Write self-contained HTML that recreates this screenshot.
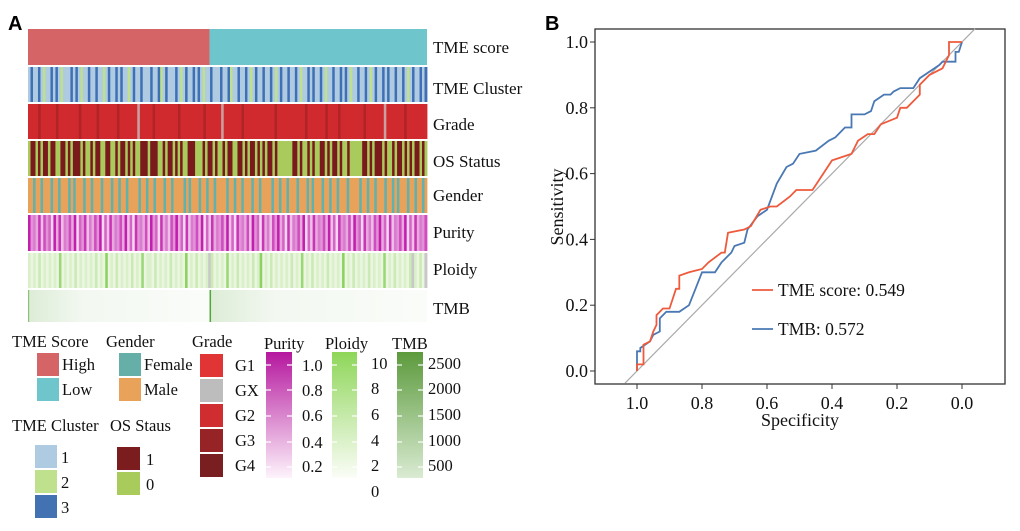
<!DOCTYPE html>
<html><head><meta charset="utf-8">
<style>
html,body{margin:0;padding:0;background:#fff;}
svg{display:block;font-family:"Liberation Serif",serif;}
.lab{font-size:17px;fill:#111;}
.lg{font-size:16.5px;fill:#111;}
</style></head>
<body>
<svg id="fig" width="1020" height="531" viewBox="0 0 1020 531">
  <text x="8" y="30" font-family="Liberation Sans" font-weight="bold" font-size="20">A</text>
  <text x="545" y="30" font-family="Liberation Sans" font-weight="bold" font-size="20">B</text>
  <g id="heat"></g>
  <g>
    <text class="lab" x="433" y="53">TME score</text>
    <text class="lab" x="433" y="94">TME Cluster</text>
    <text class="lab" x="433" y="130">Grade</text>
    <text class="lab" x="433" y="167">OS Status</text>
    <text class="lab" x="433" y="201">Gender</text>
    <text class="lab" x="433" y="238">Purity</text>
    <text class="lab" x="433" y="275">Ploidy</text>
    <text class="lab" x="433" y="314">TMB</text>
  </g>
  <defs>
    <linearGradient id="gPur" x1="0" y1="0" x2="0" y2="1"><stop offset="0" stop-color="#b5179e"/><stop offset="1" stop-color="#fdf3fb"/></linearGradient>
    <linearGradient id="gPlo" x1="0" y1="0" x2="0" y2="1"><stop offset="0" stop-color="#8ed659"/><stop offset="1" stop-color="#fbfdf7"/></linearGradient>
    <linearGradient id="gTmb" x1="0" y1="0" x2="0" y2="1"><stop offset="0" stop-color="#5c9a3c"/><stop offset="1" stop-color="#d9ebd2"/></linearGradient>
    <linearGradient id="gTmbRow" x1="0" y1="0" x2="1" y2="0"><stop offset="0" stop-color="#dcecd6"/><stop offset="0.3" stop-color="#f3f8f1"/><stop offset="1" stop-color="#fafcf9"/></linearGradient>
  </defs>
  <g>
    <g>
      <text class="lg" x="12" y="347">TME Score</text>
      <rect x="37" y="353" width="22" height="23" fill="#d46466"/><text class="lg" x="62" y="370">High</text>
      <rect x="37" y="378" width="22" height="23" fill="#6ec5cb"/><text class="lg" x="62" y="395">Low</text>
    </g>
    <g>
      <text class="lg" x="106" y="347">Gender</text>
      <rect x="119" y="353" width="22" height="23" fill="#66aea8"/><text class="lg" x="144" y="370">Female</text>
      <rect x="119" y="378" width="22" height="23" fill="#e9a25a"/><text class="lg" x="144" y="395">Male</text>
    </g>
    <g>
      <text class="lg" x="12" y="431">TME Cluster</text>
      <rect x="35" y="445" width="22" height="23" fill="#aecbe1"/><text class="lg" x="61" y="463">1</text>
      <rect x="35" y="470" width="22" height="23" fill="#bfe08d"/><text class="lg" x="61" y="488">2</text>
      <rect x="35" y="495" width="22" height="23" fill="#4372b2"/><text class="lg" x="61" y="513">3</text>
    </g>
    <g>
      <text class="lg" x="110" y="431">OS Staus</text>
      <rect x="117" y="447" width="23" height="23" fill="#7b1c1e"/><text class="lg" x="146" y="465">1</text>
      <rect x="117" y="472" width="23" height="23" fill="#a9cb5c"/><text class="lg" x="146" y="490">0</text>
    </g>
    <g>
      <text class="lg" x="192" y="347">Grade</text>
      <rect x="200" y="354" width="23" height="23" fill="#e13434"/><text class="lg" x="235" y="371">G1</text>
      <rect x="200" y="379" width="23" height="23" fill="#bdbdbd"/><text class="lg" x="235" y="396">GX</text>
      <rect x="200" y="404" width="23" height="23" fill="#cf2d2f"/><text class="lg" x="235" y="421">G2</text>
      <rect x="200" y="429" width="23" height="23" fill="#962426"/><text class="lg" x="235" y="446">G3</text>
      <rect x="200" y="454" width="23" height="23" fill="#7a1f21"/><text class="lg" x="235" y="471">G4</text>
    </g>
    <g>
      <text class="lg" x="264" y="349">Purity</text>
      <rect x="266" y="352" width="26" height="126" fill="url(#gPur)"/>
      <text class="lg" x="302" y="371">1.0</text><text class="lg" x="302" y="396">0.8</text><text class="lg" x="302" y="421">0.6</text><text class="lg" x="302" y="448">0.4</text><text class="lg" x="302" y="472">0.2</text>
    </g>
    <g>
      <text class="lg" x="325" y="349">Ploidy</text>
      <rect x="332" y="352" width="25" height="126" fill="url(#gPlo)"/>
      <text class="lg" x="371" y="369">10</text><text class="lg" x="371" y="394">8</text><text class="lg" x="371" y="420">6</text><text class="lg" x="371" y="446">4</text><text class="lg" x="371" y="471">2</text><text class="lg" x="371" y="497">0</text>
    </g>
    <g>
      <text class="lg" x="392" y="349">TMB</text>
      <rect x="397" y="352" width="26" height="126" fill="url(#gTmb)"/>
      <text class="lg" x="428" y="369">2500</text><text class="lg" x="428" y="394">2000</text><text class="lg" x="428" y="420">1500</text><text class="lg" x="428" y="446">1000</text><text class="lg" x="428" y="471">500</text>
    </g>
    <g id="ticks" stroke="#fff" stroke-width="1.2"></g>
  </g>
  <g id="roc"></g>
</svg>
<script>
// ---- heatmap data (category codes per sample) ----
const clusterRow = "1311312113131211131312113113112131131311213113111311321311131213113131211311131132113113121311311312131131131211313113121131131312113113121311313113113121311313";
const gradeRow   = "2222322222232222222232222223222222232222222X22222322222222232222222223222222X222222232222222222223222222222223222222232222322222222232222222X2222222322222222";
const osRow      = "0110101101100110101110100101100110010110101001110111001011010100111000101101001011001101011010101101000000110100101001101011010010000011010111010010110101011010";
const genderRow  = "MMFMMFMMMFMMFMMMFMFMMMFMMFMMMFMMMFMMFMMFMMMMFMMFMMFMMMFMMFMMMMFMFMMMFMMFMMFMMMMFMMFMMFMMMFMMFMMMMFMMFMMFMMMFMMMFMFMMMFMMFMMFMMMFMMMMFMMFMMFMMMFMMFMFMMMFMMFMMFM";
const purityRow  = "9453827461938254739164825374916283547392618453729461835274936182547391628354739261845372946183527493618254739162835473926184537294618352749361825473916283547";
const ploidyRow  = "2121312121216121213121212131217121312121312161221312121312121712131212n312121612131212131271213121212131216121312121312121712131212131212161213121213n2131n";
const tmeSplit = 0.455;
const X0 = 28, X1 = 427;
const rows = [[29,65],[67,102],[104,139],[141,176],[178,213],[215,251],[253,288],[290,322]];
const NS = "http://www.w3.org/2000/svg";
const heat = document.getElementById('heat');
function rect(parent, x, y, w, h, fill){
  const r = document.createElementNS(NS,'rect');
  r.setAttribute('x',x); r.setAttribute('y',y); r.setAttribute('width',w); r.setAttribute('height',h); r.setAttribute('fill',fill);
  parent.appendChild(r); return r;
}
const catColors = {
  cluster:{'1':'#aecbe1','2':'#bfe08d','3':'#3f70b6'},
  grade:{'1':'#e13434','X':'#c8a0a0','2':'#d02a2e','3':'#b02327','4':'#7a1f21'},
  os:{'0':'#a9cb5c','1':'#7b1a1d'},
  gender:{'F':'#5fb2ae','M':'#e9a25a'}
};
function mix(a,b,t){const pa=[parseInt(a.slice(1,3),16),parseInt(a.slice(3,5),16),parseInt(a.slice(5,7),16)],pb=[parseInt(b.slice(1,3),16),parseInt(b.slice(3,5),16),parseInt(b.slice(5,7),16)];return 'rgb('+pa.map((v,i)=>Math.round(v+(pb[i]-v)*t)).join(',')+')';}
function drawRow(str, yr, colorFn, name){
  const g = document.createElementNS(NS,'g');
  
  
  heat.appendChild(g);
  const n = str.length, w = (X1-X0)/n;
  for(let i=0;i<n;i++){
    const r = rect(g, X0+i*w, yr[0], w+0.4, yr[1]-yr[0], colorFn(str[i]));
    
    
  }
}
const g0 = document.createElementNS(NS,'g');


heat.appendChild(g0);
const xs = X0 + (X1-X0)*tmeSplit;
rect(g0, X0, rows[0][0], xs-X0, rows[0][1]-rows[0][0], '#d46466');
rect(g0, xs, rows[0][0], X1-xs, rows[0][1]-rows[0][0], '#6ec5cb');
drawRow(clusterRow, rows[1], c=>catColors.cluster[c], 'tme-cluster-row');
drawRow(gradeRow, rows[2], c=>catColors.grade[c], 'grade-row');
drawRow(osRow, rows[3], c=>catColors.os[c], 'os-status-row');
drawRow(genderRow, rows[4], c=>catColors.gender[c], 'gender-row');
drawRow(purityRow, rows[5], c=>mix('#fbeef8','#c21fae',(+c)/9), 'purity-row');
drawRow(ploidyRow, rows[6], c=>c==='n'?'#c8c8c8':mix('#eaf6df','#7ccc4c',Math.min(1,(+c-1)/7)), 'ploidy-row');
const g7 = document.createElementNS(NS,'g');


heat.appendChild(g7);
rect(g7, X0, rows[7][0], xs-X0, rows[7][1]-rows[7][0], 'url(#gTmbRow)');
rect(g7, xs, rows[7][0], X1-xs, rows[7][1]-rows[7][0], 'url(#gTmbRow)');
rect(g7, X0, rows[7][0], 1.2, rows[7][1]-rows[7][0], '#8cc27a');
rect(g7, xs, rows[7][0], 1.5, rows[7][1]-rows[7][0], '#4fa83a');
const tk = document.getElementById('ticks');
[[266,292],[332,357],[397,423]].forEach(b=>{
  [365,390,416,442,467].forEach(y=>{[[b[0],b[0]+5],[b[1]-5,b[1]]].forEach(s=>{const l=document.createElementNS(NS,'line');l.setAttribute('x1',s[0]);l.setAttribute('x2',s[1]);l.setAttribute('y1',y);l.setAttribute('y2',y);tk.appendChild(l);});});
});

// ---- ROC data ----
const tmeSpec = [1.0,1.0,0.98,0.98,0.96,0.95,0.94,0.94,0.92,0.90,0.89,0.88,0.87,0.87,0.84,0.80,0.78,0.74,0.73,0.72,0.67,0.65,0.62,0.59,0.57,0.53,0.51,0.46,0.40,0.34,0.32,0.29,0.27,0.25,0.20,0.19,0.17,0.15,0.13,0.13,0.10,0.06,0.04,0.04,0.0];
const tmeSens = [0,0.02,0.02,0.08,0.09,0.12,0.14,0.17,0.19,0.19,0.22,0.25,0.25,0.29,0.30,0.31,0.33,0.36,0.36,0.42,0.43,0.44,0.49,0.50,0.50,0.53,0.55,0.55,0.64,0.66,0.70,0.72,0.72,0.75,0.77,0.80,0.80,0.82,0.84,0.87,0.90,0.92,0.96,1.0,1.0];
const tmbSpec = [1.0,1.0,0.99,0.99,0.96,0.95,0.93,0.93,0.91,0.87,0.84,0.82,0.80,0.76,0.74,0.71,0.70,0.67,0.66,0.63,0.60,0.57,0.54,0.52,0.50,0.45,0.41,0.39,0.37,0.36,0.34,0.34,0.30,0.28,0.27,0.24,0.22,0.21,0.19,0.15,0.13,0.10,0.07,0.06,0.02,0.02,0.01,0.0];
const tmbSens = [0,0.06,0.06,0.07,0.09,0.11,0.12,0.16,0.18,0.18,0.20,0.25,0.30,0.30,0.33,0.36,0.38,0.39,0.43,0.47,0.49,0.57,0.62,0.63,0.66,0.67,0.70,0.71,0.73,0.74,0.74,0.78,0.78,0.79,0.82,0.84,0.84,0.85,0.86,0.86,0.89,0.91,0.93,0.94,0.94,0.97,0.97,1.0];
const xTicks = [1.0,0.8,0.6,0.4,0.2,0.0];
const yTicks = [0.0,0.2,0.4,0.6,0.8,1.0];
const legendLabels = ["TME score: 0.549","TMB: 0.572"];

const roc = document.getElementById('roc');
const sx = v => 962 - v*325;
const sy = v => 371 - v*329;
function el(tag, attrs, parent){const e=document.createElementNS(NS,tag);for(const k in attrs)e.setAttribute(k,attrs[k]);(parent||roc).appendChild(e);return e;}
const frame = el('rect',{x:595,y:29,width:410,height:355,fill:'none',stroke:'#333','stroke-width':1.3});


const diag = el('line',{x1:sx(1.037),y1:sy(-0.037),x2:sx(-0.04),y2:sy(1.04),stroke:'#aaa','stroke-width':1.2});


xTicks.forEach(t=>{
  el('line',{x1:sx(t),x2:sx(t),y1:384,y2:389,stroke:'#333'});
  const tx = el('text',{x:sx(t),y:409,'text-anchor':'middle','font-size':18,fill:'#111'});
  tx.textContent = t.toFixed(1);
  
  
});
yTicks.forEach(t=>{
  el('line',{x1:590,x2:595,y1:sy(t),y2:sy(t),stroke:'#333'});
  const tx = el('text',{x:588,y:sy(t)+6,'text-anchor':'end','font-size':18,fill:'#111'});
  tx.textContent = t.toFixed(1);
  
  
});
const xt = el('text',{x:800,y:426,'text-anchor':'middle','font-size':18,fill:'#111'});
xt.textContent='Specificity';


const yt = el('text',{x:0,y:0,transform:'translate(563,207) rotate(-90)','text-anchor':'middle','font-size':18,fill:'#111'});
yt.textContent='Sensitivity';


function pathOf(sp,se){return sp.map((v,i)=>(i?'L':'M')+sx(v).toFixed(1)+','+sy(se[i]).toFixed(1)).join('');}
const pb = el('path',{d:pathOf(tmbSpec,tmbSens),fill:'none',stroke:'#4a78b4','stroke-width':1.8});


const pr = el('path',{d:pathOf(tmeSpec,tmeSens),fill:'none',stroke:'#ee5a3c','stroke-width':1.8});


[['#ee5a3c',290],['#4a78b4',329]].forEach((c,i)=>{
  const l = el('line',{x1:752,x2:773,y1:c[1],y2:c[1],stroke:c[0],'stroke-width':1.8});
  
  
  const t = el('text',{x:778,y:c[1]+6,'font-size':17.5,fill:'#111'});
  t.textContent = legendLabels[i];
  
  
});
</script>
</body></html>
